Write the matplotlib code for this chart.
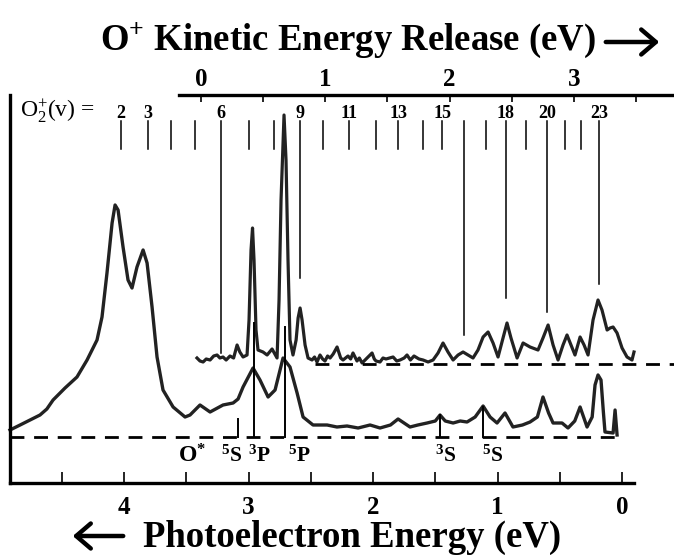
import numpy as np
import matplotlib
matplotlib.use('Agg')
import matplotlib.pyplot as plt

plt.rcParams['font.family'] = ['Liberation Serif', 'DejaVu Serif']
plt.rcParams['mathtext.fontset'] = 'custom'
plt.rcParams['mathtext.rm'] = 'Liberation Serif'
plt.rcParams['mathtext.it'] = 'Liberation Serif:italic'
plt.rcParams['mathtext.bf'] = 'Liberation Serif:bold'

# 光电子能量 (eV) 与强度 (任意单位, 以各自基线为零)
pe_low = [4.916, 4.900, 4.835, 4.755, 4.675, 4.620, 4.570, 4.474, 4.378, 4.297,
          4.217, 4.177, 4.137, 4.096, 4.072, 4.048, 4.008, 3.968, 3.936, 3.896,
          3.847, 3.815, 3.775, 3.735, 3.687, 3.606, 3.510, 3.470, 3.390, 3.309,
          3.205, 3.124, 3.084, 3.044, 2.964, 2.908, 2.843, 2.787, 2.723, 2.667,
          2.610, 2.562, 2.482, 2.369, 2.290, 2.209, 2.120, 2.024, 1.944, 1.860,
          1.799, 1.703, 1.640, 1.566, 1.500, 1.462, 1.420, 1.357, 1.300, 1.245,
          1.180, 1.116, 1.060, 1.004, 0.940, 0.876, 0.800, 0.739, 0.680, 0.635,
          0.590, 0.554, 0.482, 0.434, 0.380, 0.337, 0.281, 0.240, 0.217, 0.193,
          0.169, 0.150, 0.137, 0.072, 0.056, 0.040]
int_low = [7, 8, 12, 17, 22, 28, 37, 49, 60, 77,
           97, 120, 164, 214, 232, 227, 190, 157, 149, 170,
           187, 174, 130, 80, 47, 30, 20, 22, 32, 25,
           32, 34, 38, 50, 69, 57, 40, 47, 79, 70,
           44, 20, 12, 12, 10, 11, 9, 12, 9, 12,
           18, 10, 12, 14, 16, 22, 16, 14, 16, 15,
           20, 31, 20, 14, 24, 10, 12, 15, 20, 40,
           24, 14, 14, 9, 16, 30, 10, 20, 52, 62,
           57, 25, 5, 4, 27, 2]

pe_up = [3.414, 3.390, 3.365, 3.340, 3.309, 3.280, 3.253, 3.230, 3.205, 3.180,
         3.149, 3.120, 3.092, 3.070, 3.044, 3.012, 2.996, 2.980, 2.968, 2.956,
         2.940, 2.924, 2.884, 2.851, 2.811, 2.771, 2.755, 2.739, 2.715, 2.699,
         2.683, 2.667, 2.643, 2.618, 2.602, 2.586, 2.570, 2.546, 2.522, 2.490,
         2.470, 2.450, 2.426, 2.405, 2.386, 2.365, 2.345, 2.320, 2.289, 2.260,
         2.241, 2.201, 2.180, 2.161, 2.129, 2.110, 2.088, 2.048, 2.008, 1.990,
         1.976, 1.944, 1.920, 1.896, 1.839, 1.810, 1.783, 1.750, 1.727, 1.700,
         1.671, 1.631, 1.598, 1.558, 1.518, 1.478, 1.438, 1.398, 1.357, 1.317,
         1.277, 1.237, 1.197, 1.157, 1.116, 1.076, 1.036, 0.996, 0.956, 0.924,
         0.892, 0.843, 0.795, 0.739, 0.675, 0.635, 0.594, 0.554, 0.514, 0.474,
         0.442, 0.410, 0.378, 0.337, 0.305, 0.273, 0.233, 0.193, 0.161, 0.120,
         0.096, 0.072, 0.040, 0.000, -0.040, -0.080, -0.096]
int_up = [6, 3, 2, 5, 4, 8, 9, 6, 7, 4,
          8, 6, 19, 12, 7, 9, 44, 114, 136, 104,
          34, 14, 12, 9, 15, 6, 64, 164, 249, 204,
          104, 24, 9, 24, 46, 56, 44, 19, 6, 4,
          7, 2, 9, 5, 3, 8, 6, 10, 17, 6,
          4, 8, 5, 11, 3, 6, 1, 6, 11, 5,
          3, 2, 6, 5, 7, 3, 4, 6, 9, 4,
          8, 5, 4, 2, 4, 11, 21, 12, 4, 9,
          12, 9, 6, 14, 27, 32, 21, 7, 26, 41,
          26, 6, 21, 17, 14, 26, 39, 19, 4, 19,
          29, 19, 9, 27, 19, 9, 44, 64, 54, 34,
          36, 37, 31, 16, 7, 4, 12]
up_offset = 73

# O2+(v) 振动能级位置
v_levels = list(range(2, 24))
v_pe = [4.024, 3.807, 3.622, 3.430, 3.221, 2.996, 2.795, 2.586, 2.402, 2.193,
        1.976, 1.799, 1.598, 1.446, 1.269, 1.092, 0.932, 0.771, 0.602, 0.458,
        0.329, 0.185]
v_labeled = [2, 3, 6, 9, 11, 13, 15, 18, 20, 23]
v_long = {6: 84, 9: 159, 16: 102, 18: 139, 20: 125, 23: 153}

# 原子态标记
state_names = [r'O$^{\mathbf{*}}$', r'$^{\mathbf{5}}$S', r'$^{\mathbf{3}}$P',
               r'$^{\mathbf{5}}$P', r'$^{\mathbf{3}}$S', r'$^{\mathbf{5}}$S']
state_pe = [3.454, 3.133, 2.916, 2.594, 1.414, 1.036]
mark_pe = [3.084, 2.956, 2.707, 1.462, 1.116]
mark_top = [18, 114, 110, 22, 30]

fig = plt.figure(figsize=(6.74, 5.55), dpi=100)
ax = fig.add_axes([10/674, 72/555, 624/674, 388/555])
ax.set_xlim(4.916, -0.096)
ax.set_ylim(-46, 342)

ax.plot(pe_low, int_low, color='#222222', lw=2.4, clip_on=False,
        solid_joinstyle='round')
ax.plot(pe_up, np.array(int_up) + up_offset, color='#222222', lw=2.3,
        clip_on=False, solid_joinstyle='round')
ax.plot([4.916, 0.032], [0, 0], color='k', lw=2.0, ls=(0, (5, 3.5)), clip_on=False)
ax.plot([2.466, -0.418], [up_offset, up_offset], color='k', lw=2.0,
        ls=(0, (5, 3.5)), clip_on=False)

for p, t in zip(mark_pe, mark_top):
    ax.plot([p, p], [0, t], color='k', lw=1.4)

for v, p in zip(v_levels, v_pe):
    bot = v_long.get(v, 288)
    ax.plot([p, p], [316, bot], color='k', lw=1.1)
    if v in v_labeled:
        ax.text(p, 324, str(v), ha='center', va='center', fontsize=13,
                fontweight='bold')
ax.text(4.835, 326, r'O$_{2}^{+}$(v) =', ha='left', va='center', fontsize=17)

for s, p in zip(state_names, state_pe):
    fs = 17 if s.startswith('O') else 15.5
    ax.text(p, -19, s, ha='center', va='center', fontsize=fs, fontweight='bold')

for sp in ['top', 'right']:
    ax.spines[sp].set_visible(False)
ax.spines['left'].set_linewidth(2.4)
ax.spines['bottom'].set_linewidth(2.4)
ax.set_yticks([])
ax.set_xticks([4, 3, 2, 1, 0])
ax.set_xticks(np.arange(0, 4.6, 0.5), minor=True)
ax.tick_params(axis='x', which='both', direction='in', length=8, width=1.2, pad=9)
ax.tick_params(axis='x', labelsize=18)
for lb in ax.get_xticklabels():
    lb.set_fontweight('bold')

# 顶部 O+ 动能轴
axt = fig.add_axes([179/674, 460/555, 495/674, 0.0001])
axt.set_xlim(-0.177, 3.805)
for sp in ['bottom', 'left', 'right']:
    axt.spines[sp].set_visible(False)
axt.spines['top'].set_linewidth(2.4)
axt.set_yticks([])
axt.xaxis.tick_top()
axt.set_xticks([0, 1, 2, 3])
axt.set_xticks(np.arange(0, 3.6, 0.5), minor=True)
axt.tick_params(axis='x', which='both', direction='in', length=5, width=1.2, pad=3,
                labelsize=18)
for lb in axt.get_xticklabels():
    lb.set_fontweight('bold')

fig.text(100/674, 1 - 40/555, r'O$^{\mathbf{+}}$ Kinetic Energy Release (eV)',
         ha='left', va='center', fontsize=26.5, fontweight='bold')
fig.text(143/674, 1 - 537/555, 'Photoelectron Energy (eV)', ha='left', va='center',
         fontsize=26.5, fontweight='bold')
fig.add_artist(matplotlib.patches.FancyArrowPatch(
    (603/674, 1 - 42/555), (662/674, 1 - 42/555), transform=fig.transFigure,
    arrowstyle='->, head_length=7, head_width=6', lw=3.2, color='k',
    mutation_scale=1.5))
fig.add_artist(matplotlib.patches.FancyArrowPatch(
    (126/674, 1 - 536/555), (70/674, 1 - 536/555), transform=fig.transFigure,
    arrowstyle='->, head_length=7, head_width=6', lw=3.2, color='k',
    mutation_scale=1.5))

fig.savefig('out.png', dpi=100)
